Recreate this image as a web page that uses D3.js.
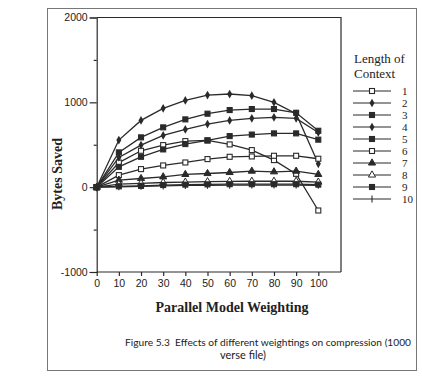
<!DOCTYPE html>
<html lang="en">
<head>
<meta charset="UTF-8">
<title>Parallel Model Weighting</title>
<script src="https://d3js.org/d3.v7.min.js"></script>
<style>
  body { margin: 0; background: #fff; }
  .tick text { font-family: "Liberation Sans", Arial, sans-serif; font-size: 10.5px; fill: #222; }
</style>
</head>
<body>
<div id="chart"></div>
<script>
// data
var weightings = [0, 10, 20, 30, 40, 50, 60, 70, 80, 90, 100];
var ctx1 = [0, 290, 429, 496, 543, 551, 504, 437, 319, 157, -275];
var ctx2 = [0, 555, 787, 929, 1023, 1086, 1098, 1078, 1000, 865, 275];
var ctx3 = [0, 410, 587, 705, 799, 866, 909, 921, 921, 877, 665];
var ctx4 = [0, 350, 496, 610, 681, 744, 787, 811, 823, 811, 645];
var ctx5 = [0, 240, 358, 445, 508, 551, 602, 620, 634, 634, 560];
var ctx6 = [0, 142, 213, 256, 291, 331, 358, 362, 370, 370, 335];
var ctx7 = [0, 83, 102, 122, 150, 161, 173, 189, 181, 189, 150];
var ctx8 = [0, 35, 45, 55, 60, 65, 68, 70, 70, 70, 60];
var ctx9 = [0, 10, 15, 25, 30, 33, 35, 35, 35, 35, 30];
var ctx10 = [0, 5, 10, 15, 20, 22, 24, 25, 25, 25, 22];
var seriesNames = ["1", "2", "3", "4", "5", "6", "7", "8", "9", "10"];
var seriesMarks = ["openSquare", "diamond", "square", "diamond", "square", "openSquare", "triangle", "openTriangle", "square", "plus"];
var xTicks = [0, 10, 20, 30, 40, 50, 60, 70, 80, 90, 100];
var yTicks = [-1000, 0, 1000, 2000];

var allSeries = [ctx1, ctx2, ctx3, ctx4, ctx5, ctx6, ctx7, ctx8, ctx9, ctx10];

var W = 422, H = 377;
var svg = d3.select("#chart").append("svg")
    .attr("width", W).attr("height", H);

// outer figure frame
svg.append("rect")
    .attr("x", 47.5).attr("y", 8.5).attr("width", 369).attr("height", 362)
    .attr("fill", "none").attr("stroke", "#777").attr("stroke-width", 1);

var x = d3.scaleLinear().domain([0, 100]).range([96.7, 318.3]);
var y = d3.scaleLinear().domain([-1000, 2000]).range([272, 17.5]);
var boxRight = 341;
var ink = "#2a2a2a";

// plot box (top + right edges)
svg.append("path")
    .attr("d", "M" + x(0) + "," + y(2000) + "H" + boxRight + "V" + y(-1000))
    .attr("fill", "none").attr("stroke", ink).attr("stroke-width", 1.2);

// y axis with minor ticks
svg.append("g").attr("transform", "translate(" + x(0) + ",0)")
    .call(d3.axisLeft(y).tickValues(yTicks).tickSize(7).tickPadding(2)
        .tickFormat(function (d) { return String(d); }));
svg.append("g").attr("transform", "translate(" + x(0) + ",0)")
    .call(d3.axisLeft(y).tickValues([-500, 500, 1500]).tickSize(3).tickFormat(""))
    .select(".domain").remove();

// x axis
var xAxis = svg.append("g").attr("transform", "translate(0," + y(-1000) + ")")
    .call(d3.axisBottom(x).tickValues(xTicks).tickSize(4).tickPadding(4).tickSizeOuter(0));
xAxis.select(".domain").attr("d", "M" + x(0) + ",0H" + boxRight);

svg.selectAll(".domain, .tick line").attr("stroke", ink).attr("stroke-width", 1.2);

var serif = "'Liberation Serif', 'DejaVu Serif', serif";

// axis titles
svg.append("text")
    .attr("transform", "translate(62,174) rotate(-90)")
    .attr("text-anchor", "middle")
    .style("font-family", serif)
    .style("font-weight", "bold").style("font-size", "14px").attr("fill", "#222")
    .text("Bytes  Saved");

svg.append("text")
    .attr("x", 232).attr("y", 312)
    .attr("text-anchor", "middle")
    .style("font-family", serif)
    .style("font-weight", "bold").style("font-size", "14px").attr("fill", "#222")
    .text("Parallel Model Weighting");

// markers
function drawMark(g, type, cx, cy) {
    var s = 2.5;
    if (type === "square" || type === "openSquare") {
        g.append("rect").attr("x", cx - s).attr("y", cy - s)
            .attr("width", 2 * s).attr("height", 2 * s)
            .attr("fill", type === "square" ? ink : "#fff")
            .attr("stroke", ink).attr("stroke-width", 1.1);
    } else if (type === "diamond") {
        g.append("path")
            .attr("d", d3.symbol(d3.symbolDiamond, 22)())
            .attr("transform", "translate(" + cx + "," + cy + ")")
            .attr("fill", ink);
    } else if (type === "triangle" || type === "openTriangle") {
        g.append("path")
            .attr("d", d3.symbol(d3.symbolTriangle, 22)())
            .attr("transform", "translate(" + cx + "," + cy + ")")
            .attr("fill", type === "triangle" ? ink : "#fff")
            .attr("stroke", ink).attr("stroke-width", 1);
    } else if (type === "plus") {
        g.append("path")
            .attr("d", "M" + cx + "," + (cy - 3.5) + "V" + (cy + 3.5))
            .attr("stroke", ink).attr("stroke-width", 1.1);
    }
}

var line = d3.line()
    .x(function (d, i) { return x(weightings[i]); })
    .y(function (d) { return y(d); });

var plot = svg.append("g");
allSeries.forEach(function (vals) {
    plot.append("path")
        .attr("d", line(vals))
        .attr("fill", "none").attr("stroke", ink).attr("stroke-width", 1.3);
});
allSeries.forEach(function (vals, k) {
    var g = plot.append("g");
    vals.forEach(function (v, i) {
        drawMark(g, seriesMarks[k], x(weightings[i]), y(v));
    });
});

// legend
svg.append("text").attr("x", 354).attr("y", 63)
    .style("font-family", serif).style("font-size", "13px").attr("fill", "#222")
    .text("Length of");
svg.append("text").attr("x", 354).attr("y", 78)
    .style("font-family", serif).style("font-size", "13px").attr("fill", "#222")
    .text("Context");

var legend = svg.append("g");
seriesNames.forEach(function (name, k) {
    var ly = 91 + k * 12;
    legend.append("line").attr("x1", 353).attr("x2", 391)
        .attr("y1", ly).attr("y2", ly)
        .attr("stroke", ink).attr("stroke-width", 1.1);
    drawMark(legend, seriesMarks[k], 372, ly);
    legend.append("text").attr("x", 402).attr("y", ly + 3.5)
        .style("font-family", serif).style("font-size", "11px").attr("fill", "#222")
        .text(name);
});

// caption
var cap = "'Lato', 'Open Sans', sans-serif";
svg.append("text").attr("x", 125).attr("y", 346)
    .style("font-family", cap).style("font-size", "10.2px").attr("fill", "#222")
    .attr("textLength", 286).attr("lengthAdjust", "spacingAndGlyphs")
    .text("Figure 5.3\u00a0\u00a0Effects of different weightings on compression (1000");
svg.append("text").attr("x", 243).attr("y", 359)
    .attr("text-anchor", "middle")
    .style("font-family", cap).style("font-size", "11px").attr("fill", "#222")
    .text("verse file)");
</script>
</body>
</html>
